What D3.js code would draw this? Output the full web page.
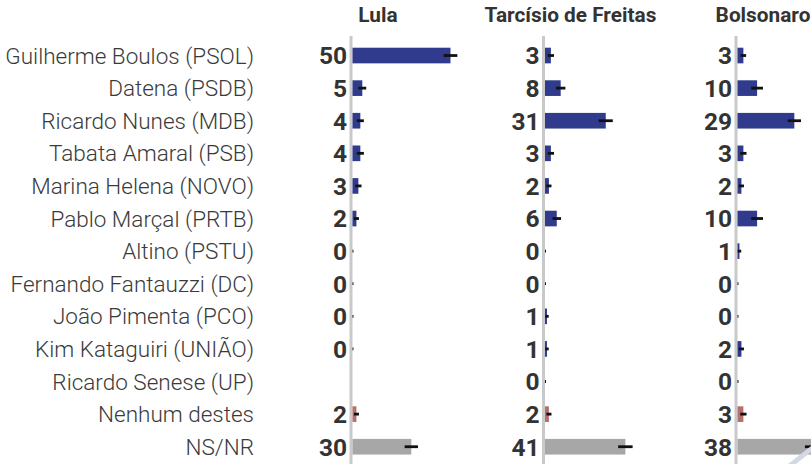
<!DOCTYPE html>
<html>
<head>
<meta charset="utf-8">
<script src="https://cdn.jsdelivr.net/npm/d3@7"></script>
<style>
  body { margin: 0; background: #fff; }
  svg { display: block; font-family: Roboto, "Noto Sans", sans-serif; }
</style>
</head>
<body>
<div id="chart"></div>
<script>
// dados
var candidatos = ["Guilherme Boulos (PSOL)", "Datena (PSDB)", "Ricardo Nunes (MDB)", "Tabata Amaral (PSB)",
  "Marina Helena (NOVO)", "Pablo Marçal (PRTB)", "Altino (PSTU)", "Fernando Fantauzzi (DC)",
  "João Pimenta (PCO)", "Kim Kataguiri (UNIÃO)", "Ricardo Senese (UP)", "Nenhum destes", "NS/NR"];
var colunas = ["Lula", "Tarcísio de Freitas", "Bolsonaro"];
var lula = [50, 5, 4, 4, 3, 2, 0, 0, 0, 0, null, 2, 30];
var tarcisio = [3, 8, 31, 3, 2, 6, 0, 0, 1, 1, 0, 2, 41];
var bolsonaro = [3, 10, 29, 3, 2, 10, 1, 0, 0, 2, 0, 3, 38];
var erroLula = [3.5, 2, 1.8, 1.8, 1.6, 1.3, 0.5, 0.5, 0.5, 0.5, null, 1.3, 3.4];
var erroTarcisio = [1.6, 2.4, 3.6, 1.6, 1.3, 2.2, 0.5, 0.5, 0.9, 0.9, 0.5, 1.3, 3.7];
var erroBolsonaro = [1.4, 3, 3.4, 1.6, 1.3, 3, 0.9, 0.5, 0.5, 1.3, 0.5, 1.6, 3.6];

var width = 811, height = 464;
var series = [lula, tarcisio, bolsonaro];
var erros = [erroLula, erroTarcisio, erroBolsonaro];

var svg = d3.select("#chart").append("svg").attr("width", width).attr("height", height);

var y = d3.scaleBand().domain(candidatos).range([30.75, 471.5]).padding(0.52);
var col = d3.scalePoint().domain(colunas).range([351, 736]);
var x = d3.scaleLinear().domain([0, 50]).range([0, 98]);

function corBarra(nome) {
  if (nome === "NS/NR") return "#a7a7a7";
  if (nome === "Nenhum destes") return "#b56f6c";
  return "#303b8e";
}

// rótulos das linhas
svg.append("g").selectAll("text").data(candidatos).enter().append("text")
  .attr("x", 254)
  .attr("y", function(d) { return y(d) + y.bandwidth() / 2; })
  .attr("dy", "0.36em")
  .attr("text-anchor", "end")
  .attr("font-size", 22.5)
  .attr("font-weight", 300)
  .attr("fill", "#3a3a3a")
  .text(function(d) { return d; });

colunas.forEach(function(c, j) {
  var x0 = col(c);
  var g = svg.append("g");
  var rows = candidatos.map(function(nome, i) {
    return { nome: nome, v: series[j][i], e: erros[j][i] };
  }).filter(function(d) { return d.v !== null; });

  g.append("text")
    .attr("x", x0 + 27).attr("y", 22)
    .attr("text-anchor", "middle")
    .attr("font-size", 20.8).attr("font-weight", 700).attr("fill", "#333")
    .text(c);

  g.append("line")
    .attr("x1", x0).attr("x2", x0).attr("y1", 36).attr("y2", height)
    .attr("stroke", "#c9c9c9").attr("stroke-width", 3);

  g.selectAll("rect").data(rows).enter().append("rect")
    .attr("x", x0 + 1.5)
    .attr("y", function(d) { return y(d.nome); })
    .attr("height", y.bandwidth())
    .attr("width", function(d) { return x(d.v); })
    .attr("fill", function(d) { return corBarra(d.nome); });

  g.selectAll("line.err").data(rows).enter().append("line")
    .attr("class", "err")
    .attr("x1", function(d) { return x0 + 1.5 + x(Math.max(0, d.v - d.e)); })
    .attr("x2", function(d) { return x0 + 1.5 + x(d.v + d.e); })
    .attr("y1", function(d) { return y(d.nome) + y.bandwidth() / 2; })
    .attr("y2", function(d) { return y(d.nome) + y.bandwidth() / 2; })
    .attr("stroke", "#111").attr("stroke-width", 2.8);

  g.selectAll("text.val").data(rows).enter().append("text")
    .attr("class", "val")
    .attr("x", x0 - 4)
    .attr("y", function(d) { return y(d.nome) + y.bandwidth() / 2; })
    .attr("dy", "0.36em")
    .attr("text-anchor", "end")
    .attr("font-size", 24.5).attr("font-weight", 700).attr("fill", "#333")
    .text(function(d) { return d.v; });
});

// marca d'água no canto
svg.append("path")
  .attr("d", "M788,464 L811,446 L811,452 L796,464 Z")
  .attr("fill", "#d3d9e2");
</script>
</body>
</html>
